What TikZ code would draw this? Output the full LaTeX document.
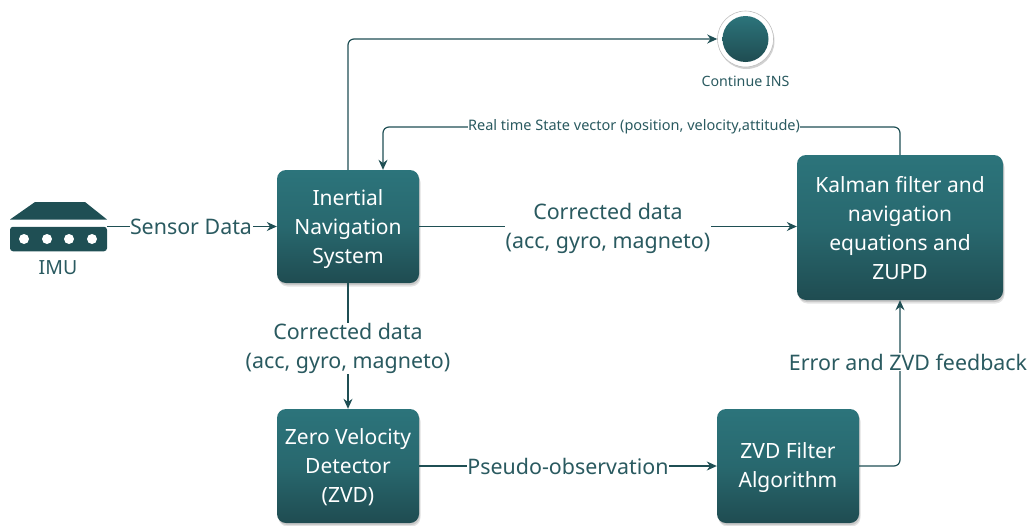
\documentclass[tikz,border=0pt]{standalone}
\usepackage{fontspec}
\setmainfont{Noto Sans}
\usetikzlibrary{arrows.meta,shadows,calc}
\definecolor{tealtop}{HTML}{2C747B}
\definecolor{tealbot}{HTML}{1F4C51}
\definecolor{linecol}{HTML}{1F4F54}
\definecolor{textcol}{HTML}{2A5A60}
\newcommand{\topstrut}[1]{\rule{0pt}{#1pt}}
\tikzset{
  x=1pt,y=-1pt,
  softshadow/.style={general shadow={fill=black,opacity=.10,shadow xshift=1.5pt,shadow yshift=-3.5pt,rounded corners=9pt},
                     general shadow={fill=black,opacity=.12,shadow xshift=1pt,shadow yshift=-2pt,rounded corners=9pt}},
  procbox/.style={softshadow,rounded corners=9pt,top color=tealtop,bottom color=tealbot,middle color=tealtop!70!tealbot,
    text=white,align=center,inner sep=0pt,font=\fontsize{21}{29}\selectfont},
  link/.style={draw=linecol,line width=1.2pt,rounded corners=6pt,-{Stealth[length=10pt,width=9pt]}},
  lab/.style={fill=white,inner sep=0.5pt,text=textcol,align=center,font=\fontsize{21.4}{29.5}\selectfont},
  smalllab/.style={fill=white,inner sep=0.5pt,text=textcol,font=\fontsize{14.5}{16}\selectfont},
}
\begin{document}
\begin{tikzpicture}
\useasboundingbox (0,0) rectangle (1036,525);
% boxes
\node[procbox,minimum width=142pt,minimum height=113pt] (ins) at (348,226.5) {\topstrut{22}Inertial\\Navigation\\System};
\node[procbox,minimum width=206pt,minimum height=145pt] (kal) at (900,227.5) {\topstrut{18}Kalman filter and\\navigation\\equations and\\ZUPD};
\node[procbox,minimum width=142pt,minimum height=114pt] (zvd) at (348,466) {\topstrut{18}Zero Velocity\\Detector\\(ZVD)};
\node[procbox,minimum width=142pt,minimum height=114pt] (flt) at (788,466) {\topstrut{20}ZVD Filter\\Algorithm};
% end circle
\node[circle,fill=white,draw=black!25,line width=.6pt,minimum size=56pt,inner sep=0pt,
  general shadow={fill=black,opacity=.18,shadow xshift=1pt,shadow yshift=-2pt}] (endc) at (745.5,39) {};
\node[circle,top color=tealtop,bottom color=tealbot,minimum size=46pt,inner sep=0pt] (endi) at (endc.center) {};
\node[text=textcol,font=\fontsize{14.2}{16}\selectfont] (endl) at (745.5,81) {Continue INS};
% IMU icon
\fill[linecol] (35,202) -- (85,202) -- (107,219.5) -- (10,219.5) -- cycle;
\node[fill=linecol,rounded corners=3pt,minimum width=97pt,minimum height=24.5pt,inner sep=0pt] (imu) at (58.5,239) {};
\foreach \px in {24,47,69,92}{\fill[white] (\px,239) circle (5pt);}
\node[text=textcol,font=\fontsize{19.5}{22}\selectfont] (imul) at (58,268) {IMU};
% connectors
\coordinate (insA) at (ins.north);
\coordinate (insB) at ($(ins.north)+(35,0)$);
\draw[link] (insA) |- (endc.west);
\draw[link] (kal.north) |- (383,127) -- (insB);
\node[smalllab] (rt) at (634,126.5) {Real time State vector (position, velocity,attitude)};
\draw[link] (imu.east |- ins.west) -- (ins.west);
\node[lab] (sd) at (191,227) {Sensor Data};
\draw[link] (ins.east) -- (kal.west |- ins.east);
\node[lab] (c1) at (608,228.5) {Corrected data\\(acc, gyro, magneto)};
\draw[link] (ins.south) -- (zvd.north);
\node[lab] (c2) at (348,348.5) {Corrected data\\(acc, gyro, magneto)};
\draw[link] (zvd.east) -- (flt.west);
\node[lab] (po) at (568,466) {Pseudo-observation};
\draw[link] (flt.east) -| (kal.south);
\node[lab] (fb) at (908,362) {Error and ZVD feedback};
\end{tikzpicture}
\end{document}
